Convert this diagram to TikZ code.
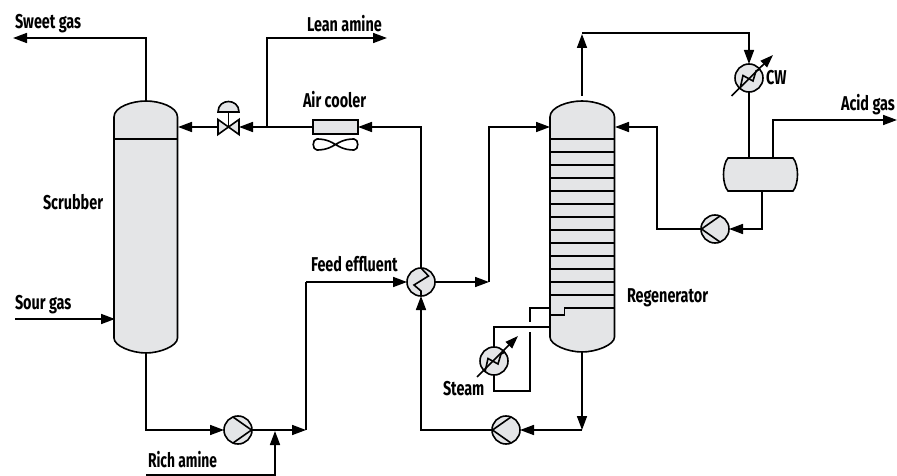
\documentclass[tikz,border=0pt]{standalone}
\usepackage{fontspec}
\setmainfont[FakeStretch=0.72]{Fira Sans Bold}
\usetikzlibrary{arrows.meta,calc}
\definecolor{vessel}{HTML}{E4E5E7}
\tikzset{
  pipe/.style={line width=1.6pt,line join=miter},
  flow/.style={pipe,-{Triangle[length=14pt,width=10pt]}},
  shell/.style={line width=1.6pt,draw=black,fill=vessel},
  plate/.style={line width=1.5pt},
  round machine/.style={circle,draw=black,fill=vessel,line width=1.6pt,minimum size=28pt,inner sep=0pt,outer sep=0pt},
  coil/.style={line width=1.6pt,line join=miter},
  label/.style={inner sep=0pt,outer sep=0pt,font=\fontsize{20}{20}\selectfont,text=black}
}
\begin{document}
\begin{tikzpicture}[x=1pt,y=-1pt]
\useasboundingbox (0,0) rectangle (897,476);
% Port and bend coordinates
\coordinate (sweetEnd) at (13,38);
\coordinate (sweetBend) at (146,38);
\coordinate (scrubTop) at (146,101);
\coordinate (scrubBot) at (146,353);
\coordinate (scrubIn) at (178,127);
\coordinate (sourStart) at (15,319);
\coordinate (sourIn) at (115,319);
\coordinate (leanJ) at (267,127);
\coordinate (leanBend) at (267,38);
\coordinate (leanEnd) at (387,38);
\coordinate (valveL) at (218,127);
\coordinate (valveR) at (239,127);
\coordinate (valveC) at (228.5,127);
\coordinate (coolerL) at (313,127);
\coordinate (coolerR) at (358,127);
\coordinate (hotBend) at (421,127);
\coordinate (pipeA) at (306,430);
\coordinate (pipeATop) at (306,282);
\coordinate (richStart) at (146,475);
\coordinate (richBend) at (275,475);
\coordinate (richTip) at (275,431);
\coordinate (toTower) at (489,282);
\coordinate (towerBend) at (489,127);
\coordinate (towerIn) at (550,127);
\coordinate (refluxIn) at (615,127);
\coordinate (refluxBend) at (657,127);
\coordinate (refluxLow) at (657,229);
\coordinate (regBot) at (582,352);
\coordinate (regCorner) at (582,430);
\coordinate (leanLow) at (421,430);
\coordinate (regTop) at (582,96);
\coordinate (ovhdTip) at (582,34);
\coordinate (ovhdStart) at (582,33);
\coordinate (ovhdBend) at (749,33);
\coordinate (ovhdDrop) at (749,50);
\coordinate (drumTopA) at (749,158);
\coordinate (drumTopB) at (773,158);
\coordinate (acidBend) at (773,120);
\coordinate (acidEnd) at (897,120);
\coordinate (drumBot) at (762,191);
\coordinate (drumLow) at (762,229);
\coordinate (rebOutA) at (550,308);
\coordinate (rebOutB) at (530,308);
\coordinate (rebGapA) at (530,322);
\coordinate (rebGapB) at (530,332);
\coordinate (rebLow) at (530,391);
\coordinate (rebLowL) at (494,391);
\coordinate (rebRetBend) at (494,327);
\coordinate (rebRet) at (550,327);
% Vessels
\draw[shell] (114,338) -- (114,117) .. controls (114,107) and (132,101) .. (146,101) .. controls (160,101) and (177.5,107) .. (177.5,117) -- (177.5,338) .. controls (177.5,346) and (160,353) .. (146,353) .. controls (132,353) and (114,346) .. (114,338) -- cycle;
\draw[plate] (114,139) -- (177.5,139);
\draw[shell] (550,337) -- (550,117) .. controls (550,107) and (568,101) .. (582,101) .. controls (596,101) and (614.5,107) .. (614.5,117) -- (614.5,337) .. controls (614.5,345) and (596,352) .. (582,352) .. controls (568,352) and (550,345) .. (550,337) -- cycle;
\foreach \yy in {139,152,165,178,191,204,217,230,243,256,269,282,295}
  \draw[plate] (550,\yy) -- (614.5,\yy);
\draw[plate] (614.5,308) -- (564.5,308) -- (564.5,315) -- (550,315);
\draw[shell] (728,158) -- (793,158) .. controls (799,165) and (799,184) .. (793,191) -- (728,191) .. controls (722,184) and (722,165) .. (728,158) -- cycle;
% Air cooler
\node[draw=black,fill=vessel,line width=1.6pt,minimum width=45pt,minimum height=14pt,inner sep=0pt,outer sep=0pt] (cooler) at (335.5,127) {};
\draw[line width=1.6pt] (335.5,144.5) .. controls (327,139) and (320,139) .. (317,139) .. controls (312,139) and (312,150) .. (317,150) .. controls (320,150) and (327,150) .. (335.5,144.5) .. controls (344,139) and (351,139) .. (354,139) .. controls (359,139) and (359,150) .. (354,150) .. controls (351,150) and (344,150) .. (335.5,144.5) -- cycle;
% Machines
\node[round machine] (pumpA) at (238,430) {};
\node[round machine] (pumpB) at (506,430) {};
\node[round machine] (pumpC) at (715,229) {};
\node[round machine] (hxMain) at (421,282) {};
\node[round machine] (hxSteam) at (494,361) {};
\node[round machine] (hxCW) at (749,78) {};
% Pump symbols
\draw[coil] (233,417) -- (251.5,430) -- (233,443);
\draw[coil] (511,417) -- (492.5,430) -- (511,443);
\draw[coil] (720,216) -- (701.5,229) -- (720,242);
% Exchanger coils
\draw[coil] (hxMain.north) -- (428.5,276) -- (414,285) -- (421,291) -- (hxMain.south);
\draw[coil] (485,372) -- (488,358.5) -- (498,364) -- (501,354) -- (505,352);
\draw[coil] (740,89) -- (743,75.5) -- (753,81) -- (756,71) -- (760,69);
\draw[pipe,-{Triangle[length=13pt,width=9pt]}] (477,377) -- (518,336);
\draw[pipe,-{Triangle[length=13pt,width=9pt]}] (731.5,96) -- (773,55);
% Valve
\draw[shell,line join=miter] (218,119.5) -- (239,134.5) -- (239,119.5) -- (218,134.5) -- cycle;
\draw[pipe] (valveC) -- (228.5,112);
\draw[shell] (218,112) .. controls (218,98) and (239,98) .. (239,112) -- cycle;
% Connectors
\draw[flow] (scrubTop) -- (sweetBend) -- (sweetEnd);
\draw[flow] (sourStart) -- (sourIn);
\draw[flow] (valveL) -- (scrubIn);
\draw[flow] (leanJ) -- (valveR);
\draw[flow] (leanJ) -- (leanBend) -- (leanEnd);
\draw[pipe] (coolerL) -- (leanJ);
\draw[flow] (hxMain.north) -- (hotBend) -- (coolerR);
\draw[flow] (scrubBot) |- (pumpA.west);
\draw[flow] (pumpA.east) -- (pipeA);
\draw[pipe] (pipeA) -- (pipeATop);
\draw[flow] (pipeATop) -- (hxMain.west);
\draw[flow] (richStart) -- (richBend) -- (richTip);
\draw[flow] (hxMain.east) -- (toTower);
\draw[flow] (toTower) -- (towerBend) -- (towerIn);
\draw[flow] (regBot) -- (regCorner);
\draw[flow] (regCorner) -- (pumpB.east);
\draw[flow] (pumpB.west) -- (leanLow) -- (hxMain.south);
\draw[flow] (regTop) -- (ovhdTip);
\draw[pipe] (ovhdStart) -- (ovhdBend) -- (ovhdDrop);
\draw[flow] (ovhdDrop) -- (hxCW.north);
\draw[pipe] (hxCW.south) -- (drumTopA);
\draw[flow] (drumTopB) -- (acidBend) -- (acidEnd);
\draw[flow] (drumBot) -- (drumLow) -- (pumpC.east);
\draw[flow] (pumpC.west) -- (refluxLow) -- (refluxBend) -- (refluxIn);
\draw[pipe] (rebOutA) -- (rebOutB) -- (rebGapA);
\draw[pipe] (rebGapB) -- (rebLow) -- (rebLowL) -- (hxSteam.south);
\draw[pipe] (hxSteam.north) -- (rebRetBend) -- (rebRet);
% Labels
\node[label,anchor=west] (tSweet) at (15,24) {Sweet gas};
\node[label,anchor=west] (tLean) at (307,24) {Lean amine};
\node[label,anchor=west] (tAir) at (303,100) {Air cooler};
\node[label,anchor=west] (tScrub) at (43,202) {Scrubber};
\node[label,anchor=west] (tSour) at (15,305) {Sour gas};
\node[label,anchor=west] (tRich) at (148,460) {\scalebox{0.96}[1]{Rich amine}};
\node[label,anchor=west] (tFeed) at (311,264) {Feed effluent};
\node[label,anchor=west] (tRegen) at (627,298) {Regenerator};
\node[label,anchor=west] (tSteam) at (443,389) {Steam};
\node[label,anchor=west] (tCW) at (766,78) {CW};
\node[label,anchor=west] (tAcid) at (841,105) {Acid gas};
\end{tikzpicture}
\end{document}
